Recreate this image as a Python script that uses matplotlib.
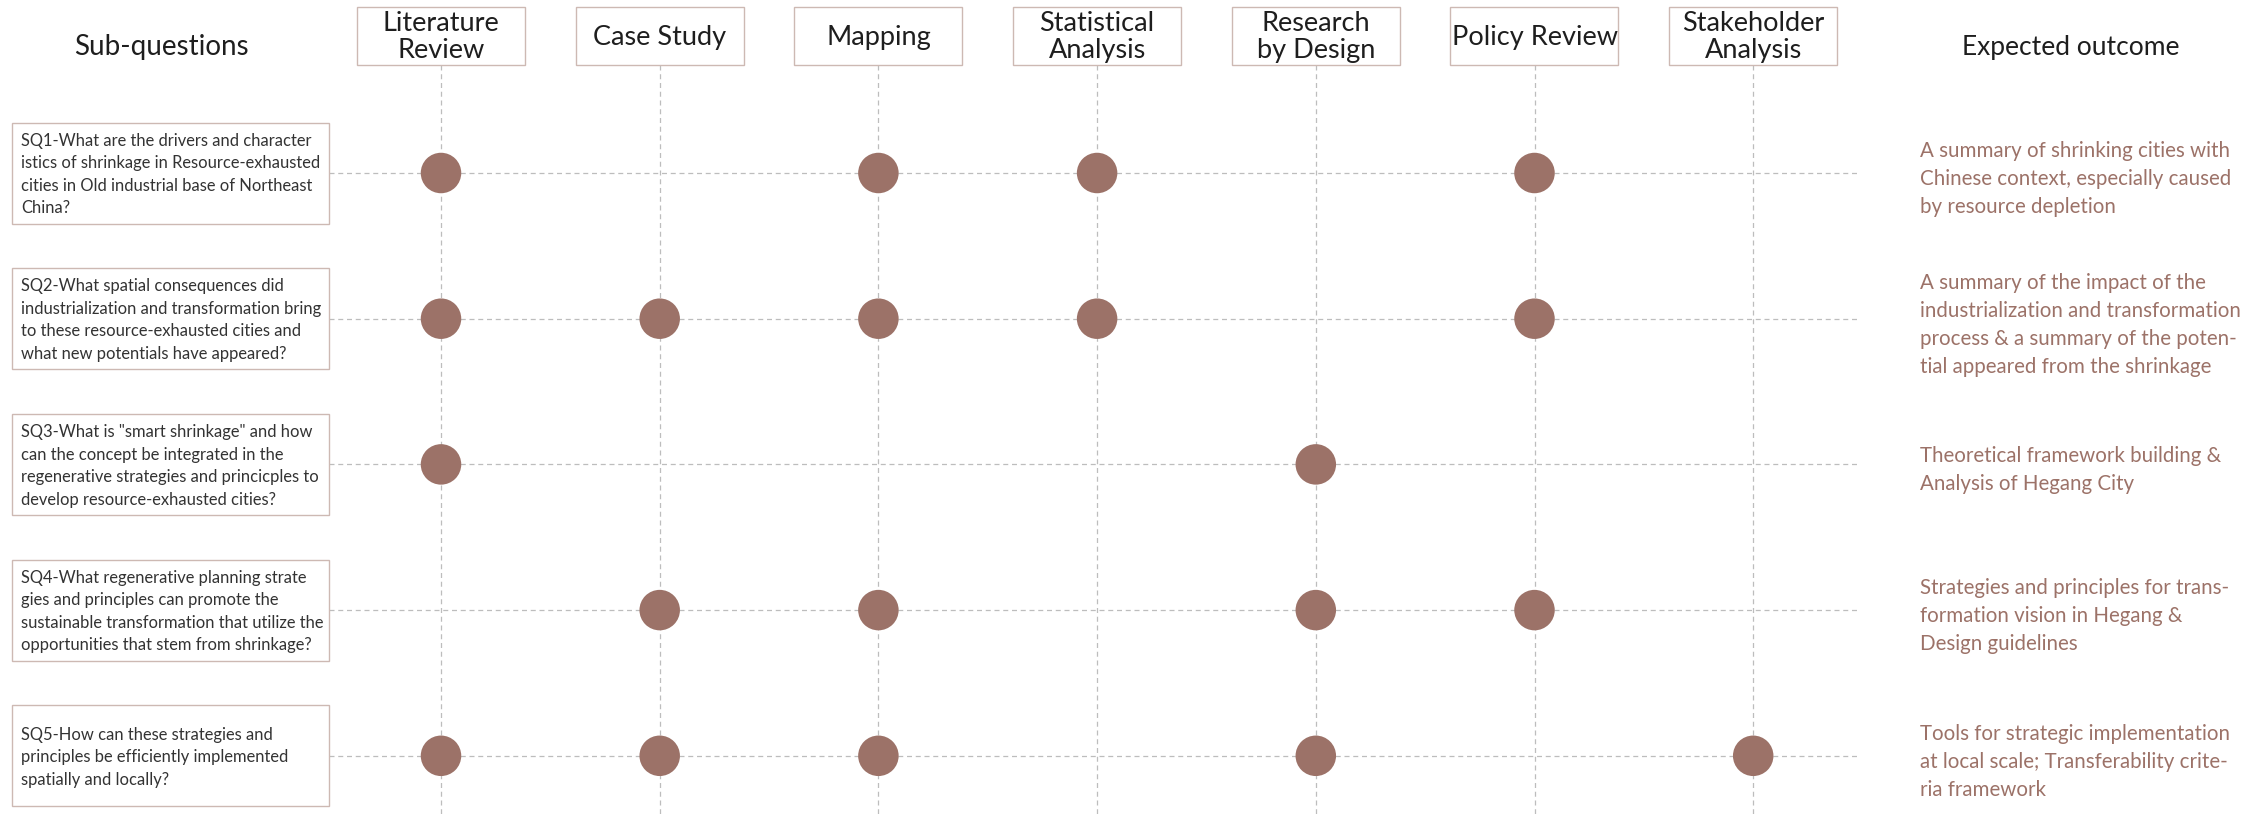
import matplotlib.pyplot as plt
from matplotlib.patches import Rectangle

# ——— DATA ———
methods = ["Literature\nReview", "Case Study", "Mapping", "Statistical\nAnalysis",
           "Research\nby Design", "Policy Review", "Stakeholder\nAnalysis"]

questions = [
    "SQ1-What are the drivers and character\nistics of shrinkage in Resource-exhausted\n"
    "cities in Old industrial base of Northeast\nChina?",
    "SQ2-What spatial consequences did\nindustrialization and transformation bring\n"
    "to these resource-exhausted cities and\nwhat new potentials have appeared?",
    "SQ3-What is \"smart shrinkage\" and how\ncan the concept be integrated in the\n"
    "regenerative strategies and princicples to\ndevelop resource-exhausted cities?",
    "SQ4-What regenerative planning strate\ngies and principles can promote the\n"
    "sustainable transformation that utilize the\nopportunities that stem from shrinkage?",
    "SQ5-How can these strategies and\nprinciples be efficiently implemented\nspatially and locally?",
]

outcomes = [
    "A summary of shrinking cities with\nChinese context, especially caused\nby resource depletion",
    "A summary of the impact of the\nindustrialization and transformation\n"
    "process & a summary of the poten-\ntial appeared from the shrinkage",
    "Theoretical framework building &\nAnalysis of Hegang City",
    "Strategies and principles for trans-\nformation vision in Hegang &\nDesign guidelines",
    "Tools for strategic implementation\nat local scale; Transferability crite-\nria framework",
]

# 1 = method used for that sub-question
used = [
    [1, 0, 1, 1, 0, 1, 0],
    [1, 1, 1, 1, 0, 1, 0],
    [1, 0, 0, 0, 1, 0, 0],
    [0, 1, 1, 0, 1, 1, 0],
    [1, 1, 1, 0, 1, 0, 1],
]

# ——— STYLE ———
DOT = '#9c7268'
TXT = '#9c7268'
EDGE = '#cdb9b3'
GRID = '#bdbdbd'
plt.rcParams['font.family'] = ['Lato', 'DejaVu Sans']

# pixel layout -> data units (column index / row index)
W, H = 2266, 814
X0, DX = 441, 218.7
Y0, DY = 173, 145.7

def px(x):
    return (x - X0) / DX

def py(y):
    return (y - Y0) / DY

fig = plt.figure(figsize=(W / 100, H / 100), dpi=100)
ax = fig.add_axes([0, 0, 1, 1])
ax.set_xlim(px(0), px(W))
ax.set_ylim(py(H), py(0))
ax.axis('off')

dash = (0, (4, 3))

# column headers + vertical guide lines
bw, bh = 168 / DX, 58 / DY
for i, m in enumerate(methods):
    ax.add_patch(Rectangle((i - bw / 2, py(7)), bw, bh, fill=False,
                           edgecolor=EDGE, lw=1.0, zorder=2))
    ax.text(i, py(37), m, ha='center', va='center', fontsize=19.5,
            linespacing=1.12, color='#1e1e1e', zorder=3)
    ax.plot([i, i], [py(65), py(H)], color=GRID, lw=0.9, ls=dash, zorder=1)

ax.text(px(161), py(47), "Sub-questions", ha='center', va='center',
        fontsize=20, color='#1e1e1e')
ax.text(px(2071), py(47), "Expected outcome", ha='center', va='center',
        fontsize=19, color='#1e1e1e')

# sub-question boxes, horizontal guide lines, outcomes
qh = 101 / DY
for j, q in enumerate(questions):
    ax.add_patch(Rectangle((px(12), j - qh / 2), px(329) - px(12), qh,
                           fill=False, edgecolor=EDGE, lw=1.0, zorder=2))
    ax.text(px(21), j + 0.01, q, ha='left', va='center', fontsize=11.9,
            linespacing=1.5, color='#333333', zorder=3)
    ax.plot([px(329), px(1857)], [j, j], color=GRID, lw=0.9, ls=dash, zorder=1)
    ax.text(px(1920), j + 0.04, outcomes[j], ha='left', va='center',
            fontsize=14.8, linespacing=1.5, color=TXT)

# dots
xs, ys = [], []
for j, row in enumerate(used):
    for i, v in enumerate(row):
        if v:
            xs.append(i)
            ys.append(j)
ax.scatter(xs, ys, s=850, color=DOT, edgecolors='none', zorder=4)

fig.savefig('out.png', dpi=100, facecolor='white')
